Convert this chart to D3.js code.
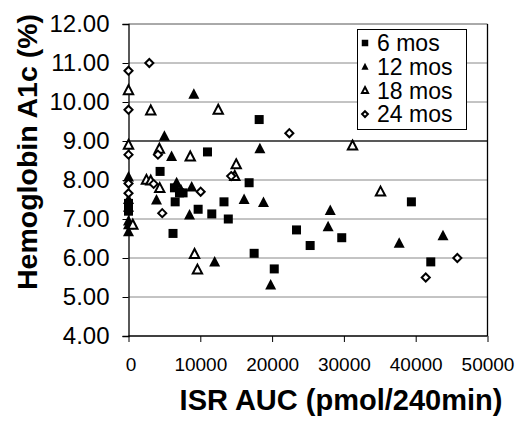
<!DOCTYPE html>
<html><head><meta charset="utf-8">
<script src="https://cdn.jsdelivr.net/npm/d3@7"></script>
<style>body{margin:0;background:#fff}</style>
</head><body>
<svg id="c" width="521" height="421"></svg>
<script>
const xTicks = [0, 10000, 20000, 30000, 40000, 50000];
const yTicks = [4, 5, 6, 7, 8, 9, 10, 11, 12];
const seriesNames = ["6 mos", "12 mos", "18 mos", "24 mos"];
const mos6 = [[18200,9.55],[11000,8.72],[4400,8.22],[16800,7.93],[6400,7.8],[7100,7.67],[7600,7.67],[6500,7.44],[13300,7.44],[9700,7.25],[11600,7.13],[13900,7.0],[6200,6.63],[23400,6.72],[29700,6.52],[25300,6.32],[17500,6.12],[20300,5.72],[39400,7.44],[42100,5.9],[0,7.4],[0,7.2]];
const mos12 = [[9100,10.2],[5000,9.12],[6000,8.6],[18300,8.8],[6700,7.93],[8800,7.82],[7300,7.75],[3900,7.49],[8500,7.1],[16100,7.5],[18800,7.42],[28100,7.22],[27800,6.8],[19800,5.31],[12000,5.9],[37700,6.38],[43800,6.57],[0,8.08],[0,7.5],[0,7.3],[0,6.95],[0,6.85],[0,6.67]];
const mos18 = [[0,10.3],[3100,9.78],[12500,9.8],[0,8.9],[4300,8.8],[8600,8.6],[15000,8.4],[14800,8.1],[2500,8.0],[3100,7.98],[4350,7.79],[600,6.85],[9200,6.1],[9600,5.7],[31200,8.88],[35100,7.7]];
const mos24 = [[2900,11.0],[0,10.8],[0,9.8],[22400,9.2],[4100,8.65],[0,8.65],[14300,8.1],[3500,7.9],[0,7.91],[10050,7.7],[0,7.66],[4700,7.15],[45800,6.0],[41400,5.5]];

const svg = d3.select("#c");
const x = d3.scaleLinear().domain([0, 50000]).range([128.5, 487.5]);
const y = d3.scaleLinear().domain([4, 12]).range([336, 24]);
const FONT = "'Liberation Sans', Arial, sans-serif";

// gridlines
svg.append("g").selectAll("line").data(yTicks.filter(d => d > 4)).join("line")
  .attr("x1", x(0)).attr("x2", x(50000))
  .attr("y1", d => y(d)).attr("y2", d => y(d))
  .attr("stroke", d => d === 9 ? "#222" : (d === 12 ? "#555" : "#888"))
  .attr("stroke-width", d => d === 9 ? 1.3 : 1);

// right border
svg.append("line").attr("x1", x(50000)).attr("x2", x(50000)).attr("y1", y(12)).attr("y2", y(4))
  .attr("stroke", "#000").attr("stroke-width", 1.3);

// axes
const yAxis = d3.axisLeft(y).tickValues(yTicks).tickSize(6).tickFormat(d3.format(".2f"));
const gy = svg.append("g").attr("transform", `translate(${x(0)},0)`).call(yAxis);
gy.select(".domain").attr("stroke", "#000").attr("stroke-width", 1.3);
gy.selectAll(".tick line").attr("stroke", "#000");
gy.selectAll(".tick text").attr("x", -19).attr("font-family", FONT).attr("font-size", 24).attr("fill", "#000");

const xAxis = d3.axisBottom(x).tickValues(xTicks).tickSize(6).tickFormat(d3.format("d"));
const gx = svg.append("g").attr("transform", `translate(0,${y(4)})`).call(xAxis);
gx.select(".domain").attr("stroke", "#000").attr("stroke-width", 1.5).attr("d", `M${x(0)},0H${x(50000)}`);
gx.selectAll(".tick line").attr("stroke", "#000");
gx.selectAll(".tick text").attr("y", 22).attr("dy", "0.71em").attr("font-family", FONT).attr("font-size", 19).attr("fill", "#000")
  .attr("dx", (d, i) => i === 0 ? 2 : 0);

// axis titles
svg.append("text").attr("x", 341).attr("y", 410).attr("text-anchor", "middle")
  .attr("font-family", FONT).attr("font-weight", "bold").attr("font-size", 29).text("ISR AUC (pmol/240min)");
svg.append("text").attr("transform", "translate(37,152) rotate(-90)").attr("text-anchor", "middle")
  .attr("font-family", FONT).attr("font-weight", "bold").attr("font-size", 28.5).text("Hemoglobin A1c (%)");

// markers
function drawMarker(g, type, size) {
  if (type === 0) {
    g.append("rect").attr("x", -size/2).attr("y", -size/2).attr("width", size).attr("height", size).attr("fill", "#000");
  } else if (type === 1) {
    const h = size;
    g.append("path").attr("d", `M0,${-h*0.6}L${h*0.55},${h*0.45}L${-h*0.55},${h*0.45}Z`).attr("fill", "#000");
  } else if (type === 2) {
    const h = size * 0.85;
    g.append("path").attr("d", `M0,${-h*0.6}L${h*0.55},${h*0.45}L${-h*0.55},${h*0.45}Z`)
      .attr("fill", "#fff").attr("stroke", "#000").attr("stroke-width", 2);
  } else {
    const r = size * 0.45;
    g.append("path").attr("d", `M0,${-r}L${r},0L0,${r}L${-r},0Z`)
      .attr("fill", "#fff").attr("stroke", "#000").attr("stroke-width", 2);
  }
}
const allSeries = [mos6, mos12, mos18, mos24];
const sizes = [9, 10, 10, 9];
allSeries.forEach((data, si) => {
  const g = svg.append("g");
  data.forEach(d => {
    const m = g.append("g").attr("transform", `translate(${x(d[0])},${y(d[1])})`);
    drawMarker(m, si, sizes[si]);
  });
});

// legend
const lg = svg.append("g");
lg.append("rect").attr("x", 357.5).attr("y", 29.5).attr("width", 109).attr("height", 100)
  .attr("fill", "#fff").attr("stroke", "#000").attr("stroke-width", 1);
seriesNames.forEach((n, i) => {
  const cy = 43 + i * 23.7;
  const m = lg.append("g").attr("transform", `translate(365,${cy})`);
  drawMarker(m, i, 6.5);
  lg.append("text").attr("x", 377).attr("y", cy).attr("dy", "0.36em")
    .attr("font-family", FONT).attr("font-size", 23).text(n);
});
</script>
</body></html>
